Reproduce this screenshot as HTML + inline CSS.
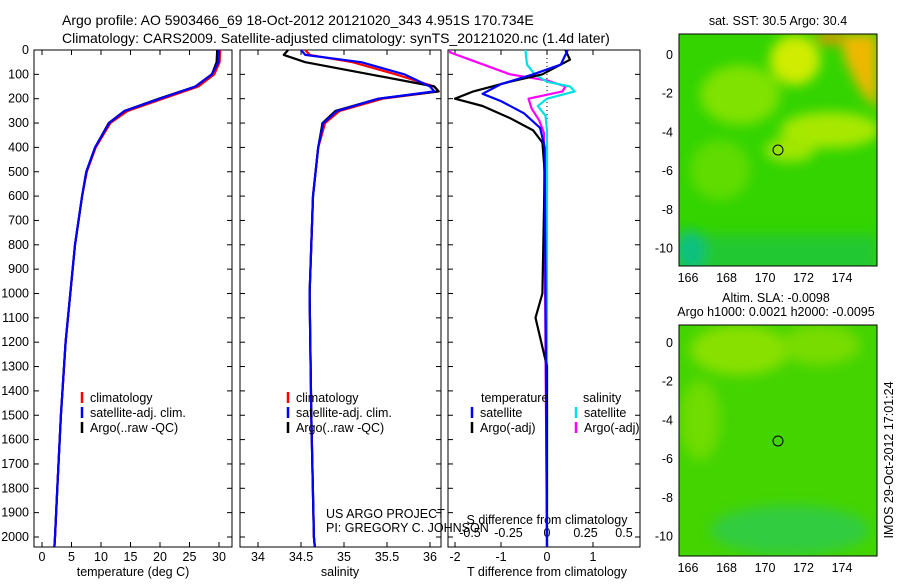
<!DOCTYPE html>
<html><head><meta charset="utf-8"><style>
body{margin:0;background:#fff;}
svg text{font-family:"Liberation Sans",sans-serif;font-size:12.5px;fill:#000;}
svg text.ttl{font-size:14px;}
</style></head><body>
<svg id="s" width="900" height="580" viewBox="0 0 900 580" xmlns="http://www.w3.org/2000/svg">
<defs>
<filter id="bl" x="-20%" y="-20%" width="140%" height="140%"><feGaussianBlur stdDeviation="6"/></filter>
<clipPath id="c1"><rect x="679" y="34" width="198" height="232"/></clipPath>
<clipPath id="c2"><rect x="679" y="325" width="198" height="231"/></clipPath>
</defs>
<text class="ttl" x="62" y="25">Argo profile: AO 5903466_69 18-Oct-2012 20121020_343 4.951S 170.734E</text>
<text class="ttl" x="62" y="43">Climatology: CARS2009. Satellite-adjusted climatology: synTS_20121020.nc (1.4d later)</text>
<g id="g"></g>
<g>
<text x="778" y="25" text-anchor="middle">sat. SST: 30.5 Argo: 30.4</text>
<g clip-path="url(#c1)">
<rect x="679" y="34" width="198" height="232" fill="#33d400"/>
<g filter="url(#bl)">
<ellipse cx="740" cy="95" rx="40" ry="30" fill="#80e200"/>
<ellipse cx="795" cy="60" rx="25" ry="25" fill="#d0ec00"/>
<ellipse cx="830" cy="130" rx="50" ry="18" fill="#a8e800"/>
<ellipse cx="790" cy="150" rx="25" ry="12" fill="#a0e600"/>
<ellipse cx="720" cy="170" rx="30" ry="30" fill="#60dc00"/>
<polygon points="840,34 877,34 877,110 860,90 845,60" fill="#f0b800"/>
<ellipse cx="830" cy="38" rx="15" ry="6" fill="#f09000"/>
<rect x="679" y="235" width="198" height="40" fill="#22c830"/>
<ellipse cx="690" cy="250" rx="15" ry="20" fill="#10c080"/>
</g>
</g>
<rect x="679" y="34" width="198" height="232" fill="none" stroke="#000"/>
<circle cx="778" cy="150" r="5" fill="none" stroke="#000"/>
</g>
<g>
<text x="776" y="302" text-anchor="middle">Altim. SLA: -0.0098</text>
<text x="776" y="316" text-anchor="middle">Argo h1000: 0.0021 h2000: -0.0095</text>
<g clip-path="url(#c2)">
<rect x="679" y="325" width="198" height="231" fill="#44d400"/>
<g filter="url(#bl)">
<ellipse cx="740" cy="350" rx="50" ry="25" fill="#88e000"/>
<ellipse cx="820" cy="345" rx="40" ry="20" fill="#78dc00"/>
<ellipse cx="700" cy="420" rx="20" ry="40" fill="#70dc00"/>
<ellipse cx="790" cy="530" rx="80" ry="25" fill="#30cc40"/>
</g>
</g>
<rect x="679" y="325" width="198" height="231" fill="none" stroke="#000"/>
<circle cx="778" cy="441" r="5" fill="none" stroke="#000"/>
</g>
<text transform="translate(893,460) rotate(-90)" text-anchor="middle">IMOS 29-Oct-2012 17:01:24</text>
<text x="326" y="518">US ARGO PROJECT</text>
<text x="326" y="532">PI: GREGORY C. JOHNSON</text>
</svg>
<script>
// Profile data
const depthT=[0,50,100,150,200,250,300,400,500,600,800,1000,1200,1500,1800,2000,2040];
const tClim=[30.2,30.1,29.2,26.5,20.5,14.5,11.6,9.1,7.6,6.8,5.6,4.8,4.0,3.2,2.6,2.2,2.1];
const tSat =[30.0,29.9,28.8,26.0,20.0,14.0,11.4,9.0,7.5,6.8,5.6,4.8,4.0,3.2,2.6,2.2,2.1];
const tArgo=[29.7,29.6,28.8,26.0,19.8,14.0,11.3,9.0,7.5,6.8,5.6,4.8,4.0,3.2,2.6,2.2,2.1];
const depthS=[0,20,50,100,150,170,200,250,300,400,600,1000,1500,2000,2040];
const sClim=[34.55,34.6,35.1,35.6,36.05,36.1,35.45,34.95,34.78,34.7,34.64,34.6,34.62,34.65,34.66];
const sSat =[34.5,34.55,35.2,35.7,36.0,36.05,35.4,34.92,34.76,34.7,34.64,34.6,34.62,34.65,34.66];
const sArgo=[34.35,34.3,34.55,35.3,36.05,36.1,35.4,34.9,34.75,34.7,34.64,34.6,34.62,34.65,34.66];
const dDepthT=[0,40,100,130,170,200,230,280,330,380,500,1000,1100,1300,2040];
const dTArgo=[0.4,0.5,-0.1,-0.8,-1.6,-2.0,-1.4,-0.8,-0.3,-0.1,-0.05,-0.1,-0.25,0,0];
const dDepthTs=[0,60,100,140,180,210,260,320,400,2040];
const dTSat=[0.45,0.3,-0.3,-1.0,-1.4,-1.0,-0.5,-0.15,-0.05,0];
const dDepthSa=[0,10,40,100,125,150,170,200,240,290,340,2040];
const dSArgo=[-0.63,-0.63,-0.5,-0.24,0,0.12,0.1,-0.12,-0.1,-0.05,-0.02,0];
const dDepthSs=[0,60,100,130,150,170,200,230,270,330,2040];
const dSSat=[-0.14,-0.13,-0.08,0,0.15,0.18,0,-0.06,-0.01,0,0];
const depthTicks=[0,100,200,300,400,500,600,700,800,900,1000,1100,1200,1300,1400,1500,1600,1700,1800,1900,2000];
const tTicks=[0,5,10,15,20,25,30];
const sTicks=[34,34.5,35,35.5,36];
const dtTicks=[-2,-1,0,1,2];
const dsTicks=[-0.5,-0.25,0,0.25,0.5];
const lonTicks=[166,168,170,172,174];
const latTicks=[0,-2,-4,-6,-8,-10];

const NS='http://www.w3.org/2000/svg';
const G=document.getElementById('g');
function mk(t,a,p){const e=document.createElementNS(NS,t);for(const k in a)e.setAttribute(k,a[k]);(p||G).appendChild(e);return e;}
const top0=50,bot=547;
const yD=d=>top0+d*0.2435;
const panels=[{x0:34,x1:232},{x0:240,x1:441},{x0:448,x1:640}];
const xT=v=>42+v*5.9, xS=v=>258+(v-34)*86, xDT=v=>547+v*46, xDS=v=>547+v*154;
function line(xs,ds,fx,col,name){const p=mk('polyline',{points:xs.map((v,i)=>fx(v).toFixed(1)+','+yD(ds[i]).toFixed(1)).join(' '),fill:'none',stroke:col,'stroke-width':2.2,'stroke-linejoin':'round'});

}
panels.forEach((p,i)=>{
 const r=mk('rect',{x:p.x0,y:top0,width:p.x1-p.x0,height:bot-top0,fill:'none',stroke:'#000'});
 
 
 depthTicks.forEach(d=>{mk('line',{x1:p.x0,x2:p.x0+5,y1:yD(d),y2:yD(d),stroke:'#000'});mk('line',{x1:p.x1,x2:p.x1-5,y1:yD(d),y2:yD(d),stroke:'#000'});});
});
depthTicks.forEach(d=>{const t=mk('text',{x:29,y:yD(d)+4,'text-anchor':'end'});t.textContent=d;

});
function xticks(ticks,fx,p,lab,labelY){ticks.forEach(v=>{const x=fx(v);mk('line',{x1:x,x2:x,y1:bot,y2:bot-5,stroke:'#000'});mk('line',{x1:x,x2:x,y1:top0,y2:top0+5,stroke:'#000'});
 const t=mk('text',{x:x,y:labelY,'text-anchor':'middle'});t.textContent=lab(v);
 
 });}
xticks(tTicks,xT,panels[0],v=>v,561);
xticks(sTicks,xS,panels[1],v=>v,561);
xticks(dtTicks.filter(v=>v<2),xDT,panels[2],v=>v,561);
dsTicks.forEach(v=>{const t=mk('text',{x:xDS(v),y:537,'text-anchor':'middle'});t.textContent=v;

});
function tx(x,y,s,n,anchor){const t=mk('text',{x:x,y:y,'text-anchor':anchor||'start'});t.textContent=s;

}
tx(133,576,'temperature (deg C)','x-axis-title-temperature','middle');
tx(340,576,'salinity','x-axis-title-salinity','middle');
tx(547,576,'T difference from climatology','x-axis-title-t-diff','middle');
tx(547,524,'S difference from climatology','x-axis-title-s-diff','middle');
const z=mk('line',{x1:547,x2:547,y1:top0,y2:bot,stroke:'#000','stroke-dasharray':'1,3'});


line(tClim,depthT,xT,'#ff0000','temp-climatology');
line(tArgo,depthT,xT,'#000','temp-argo');
line(tSat,depthT,xT,'#0000ff','temp-satellite');
line(sClim,depthS,xS,'#ff0000','sal-climatology');
line(sArgo,depthS,xS,'#000','sal-argo');
line(sSat,depthS,xS,'#0000ff','sal-satellite');
line(dSArgo,dDepthSa,xDS,'#ff00ff','sdiff-argo');
line(dSSat,dDepthSs,xDS,'#00e0e0','sdiff-satellite');
line(dTArgo,dDepthT,xDT,'#000','tdiff-argo');
line(dTSat,dDepthTs,xDT,'#0000ff','tdiff-satellite');
function leg(x,y,col,s,n){const m=mk('line',{x1:x,x2:x,y1:y-10,y2:y+1,stroke:col,'stroke-width':2.5});


tx(x+8,y,s,n);}
[82,288].forEach(x=>{leg(x,402,'#ff0000','climatology','legend-climatology');leg(x,417,'#0000ff','satellite-adj. clim.','legend-satellite');leg(x,432,'#000','Argo(..raw -QC)','legend-argo');});
tx(481,402,'temperature','legend-temperature-header');tx(583,402,'salinity','legend-salinity-header');
leg(472,417,'#0000ff','satellite','legend-t-satellite');leg(472,432,'#000','Argo(-adj)','legend-t-argo');
leg(576,417,'#00e0e0','satellite','legend-s-satellite');leg(576,432,'#ff00ff','Argo(-adj)','legend-s-argo');
const mx=v=>688+(v-166)*19.25;
[[55,34,266],[343,325,556]].forEach(([y0,t,b],k)=>{
 lonTicks.forEach(v=>{mk('line',{x1:mx(v),x2:mx(v),y1:b,y2:b-4,stroke:'#000'});mk('line',{x1:mx(v),x2:mx(v),y1:t,y2:t+4,stroke:'#000'});
  tx(mx(v),b+16,v,'map-lon-label','middle');});
 latTicks.forEach(v=>{const y=y0-v*19.35;mk('line',{x1:679,x2:683,y1:y,y2:y,stroke:'#000'});mk('line',{x1:877,x2:873,y1:y,y2:y,stroke:'#000'});
  tx(673,y+4,v,'map-lat-label','end');});
});
</script>
</body></html>
